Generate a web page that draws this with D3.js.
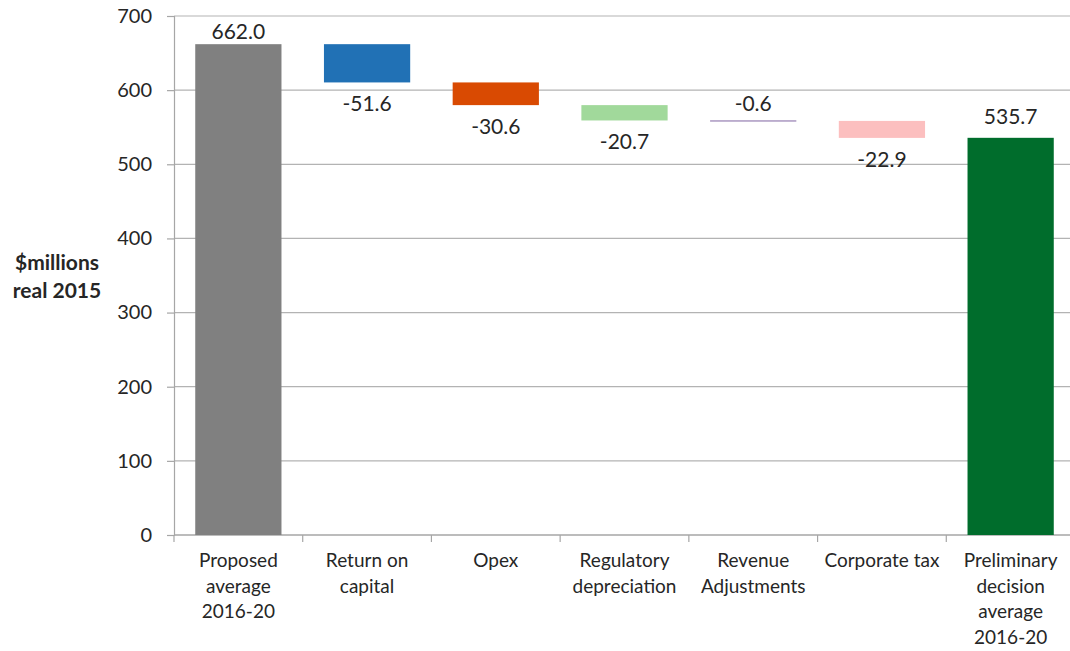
<!DOCTYPE html>
<html>
<head>
<meta charset="utf-8">
<script src="https://cdn.jsdelivr.net/npm/d3@7"></script>
<style>
  body { margin: 0; background: #fff; }
  text { font-family: Lato, "Open Sans", sans-serif; fill: #262626; }
</style>
</head>
<body>
<svg id="chart" width="1070" height="651"></svg>
<script>
// categories (each line of a label is one entry)
const categories = [
    ["Proposed", "average", "2016-20"],
    ["Return on", "capital"],
    ["Opex"],
    ["Regulatory", "depreciation"],
    ["Revenue", "Adjustments"],
    ["Corporate tax"],
    ["Preliminary", "decision", "average", "2016-20"]
];
// step values: first and last are totals, the rest are changes
const values = [662.0, -51.6, -30.6, -20.7, -0.6, -22.9, 535.7];
const isTotal = [true, false, false, false, false, false, true];
const colors = ["#808080", "#2171b5", "#d94a02", "#a1d99b", "#8064a2", "#fcbfbf", "#006d2c"];
const yTicks = [0, 100, 200, 300, 400, 500, 600, 700];

const svg = d3.select("#chart");
const plotLeft = 174, plotRight = 1075, plotTop = 16, plotBottom = 535;

const x = d3.scaleBand()
    .domain(d3.range(categories.length))
    .range([plotLeft, plotRight])
    .paddingInner(0.33)
    .paddingOuter(0.165);
const step = x.step();
const y = d3.scaleLinear().domain([0, 700]).range([plotBottom, plotTop]);

// gridlines
svg.append("g")
    .selectAll("line")
    .data(yTicks.slice(1))
    .join("line")
    .attr("x1", plotLeft).attr("x2", 1070)
    .attr("y1", d => y(d)).attr("y2", d => y(d))
    .attr("stroke", "#b3b3b3").attr("stroke-width", 1.2);

// y axis
const yAxis = svg.append("g")
    .attr("transform", `translate(${plotLeft},0)`)
    .call(d3.axisLeft(y).tickValues(yTicks).tickSize(7).tickPadding(15));
yAxis.select(".domain").attr("stroke", "#a6a6a6").attr("stroke-width", 1.2);
yAxis.selectAll(".tick line").attr("stroke", "#a6a6a6").attr("stroke-width", 1.2);
yAxis.selectAll("text").style("font-size", "20px").attr("fill", "#262626");

// x axis line and ticks between categories
svg.append("line")
    .attr("x1", plotLeft).attr("x2", 1070)
    .attr("y1", plotBottom).attr("y2", plotBottom)
    .attr("stroke", "#a6a6a6").attr("stroke-width", 1.5);
svg.append("g")
    .selectAll("line")
    .data(d3.range(categories.length + 1))
    .join("line")
    .attr("x1", i => plotLeft + i * step).attr("x2", i => plotLeft + i * step)
    .attr("y1", plotBottom).attr("y2", plotBottom + 7)
    .attr("stroke", "#a6a6a6").attr("stroke-width", 1.2);

// waterfall bars
let running = 0;
const bars = values.map((v, i) => {
    let lo, hi;
    if (isTotal[i]) {
        lo = 0; hi = v; running = v;
    } else {
        hi = running; lo = running + v; running = lo;
    }
    return { i, v, lo, hi };
});

svg.append("g")
    .selectAll("rect")
    .data(bars)
    .join("rect")
    .attr("x", d => x(d.i))
    .attr("width", x.bandwidth())
    .attr("y", d => y(d.hi))
    .attr("height", d => Math.max(1, y(d.lo) - y(d.hi)))
    .attr("fill", d => colors[d.i]);

// value labels
svg.append("g")
    .selectAll("text")
    .data(bars)
    .join("text")
    .attr("x", d => x(d.i) + x.bandwidth() / 2)
    .attr("y", d => {
        if (d.v >= 0) return Math.max(y(d.hi) - 14, 39);
        if (y(d.lo) - y(d.hi) < 4) return y(d.hi) - 9;
        return y(d.lo) + 29;
    })
    .attr("text-anchor", "middle")
    .style("font-size", "21px")
    .text(d => d.v.toFixed(1));

// category labels
const cat = svg.append("g")
    .selectAll("text")
    .data(categories)
    .join("text")
    .attr("text-anchor", "middle")
    .style("font-size", "19px")
    .attr("transform", (d, i) => `translate(${x(i) + x.bandwidth() / 2},${plotBottom + 32})`);
cat.selectAll("tspan")
    .data(d => d)
    .join("tspan")
    .attr("x", 0)
    .attr("y", (d, j) => j * 25.5)
    .text(d => d);

// y axis title
svg.append("text")
    .attr("x", 57).attr("y", 270)
    .attr("text-anchor", "middle")
    .style("font-size", "21px").style("font-weight", "bold")
    .selectAll("tspan")
    .data(["$millions", "real 2015"])
    .join("tspan")
    .attr("x", 57)
    .attr("dy", (d, j) => j ? 28 : 0)
    .text(d => d);
</script>
</body>
</html>
